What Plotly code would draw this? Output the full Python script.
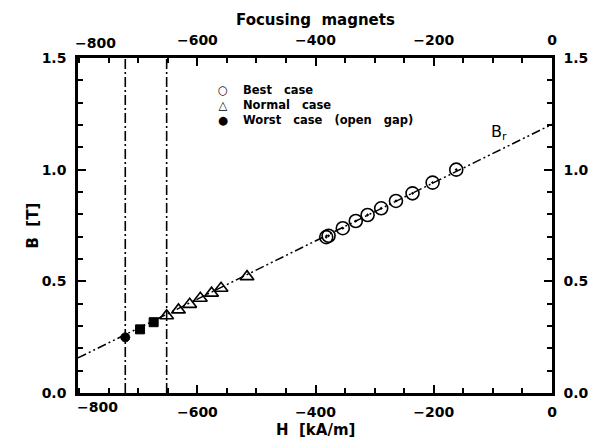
import plotly.graph_objects as go

# ---- data ----
best_H = [-162, -202, -236, -264, -289, -312, -332, -354, -378, -382]
best_B = [1.00, 0.942, 0.894, 0.860, 0.827, 0.797, 0.770, 0.738, 0.704, 0.698]
normal_H = [-516, -560, -576, -595, -613, -632, -652]
normal_B = [0.521, 0.469, 0.447, 0.424, 0.397, 0.372, 0.346]
worst_H = [-674, -697, -722]
worst_B = [0.317, 0.285, 0.249]
worst_symbols = ["square", "square", "circle"]
fit_H = [-802, 0]
fit_B = [0.157, 1.203]
limit_H = [-722, -652]

x_ticks = [-600, -400, -200, 0]
x_ticktext = ["\u2212600", "\u2212400", "\u2212200", "0"]
x_first_tick = -800
x_first_text = "\u2212800"
y_ticks = [0.0, 0.5, 1.0, 1.5]
y_ticktext = ["0.0", "0.5", "1.0", "1.5"]
legend_labels = ["Best   case", "Normal   case", "Worst   case   (open   gap)"]
legend_symbols = ["\u25cb", "\u25b3", "\u25cf"]

FONT = "DejaVu Sans"
X_RANGE = [-802, 0]
Y_RANGE = [0, 1.5]

fig = go.Figure()

fig.add_trace(go.Scatter(
    x=fit_H, y=fit_B, mode="lines",
    line=dict(color="black", width=1.5, dash="9px,3px,2px,3px,2px,3px"),
    showlegend=False, hoverinfo="skip"))

for h in limit_H:
    fig.add_trace(go.Scatter(
        x=[h, h], y=Y_RANGE, mode="lines",
        line=dict(color="black", width=1.6, dash="10px,3px,2px,3px"),
        showlegend=False, hoverinfo="skip"))

fig.add_trace(go.Scatter(
    x=best_H, y=best_B, mode="markers", name="Best case",
    marker=dict(symbol="circle-open-dot", size=13, color="black",
                line=dict(width=1.6, color="black")),
    showlegend=False))
fig.add_trace(go.Scatter(
    x=normal_H, y=normal_B, mode="markers", name="Normal case",
    marker=dict(symbol="triangle-up-open", size=12, color="black",
                line=dict(width=1.6, color="black")),
    showlegend=False))
fig.add_trace(go.Scatter(
    x=worst_H, y=worst_B, mode="markers", name="Worst case (open gap)",
    marker=dict(symbol=worst_symbols, size=9, color="black",
                line=dict(width=1, color="black")),
    showlegend=False))

# invisible trace to activate secondary axes
fig.add_trace(go.Scatter(x=[None], y=[None], xaxis="x2", yaxis="y2",
                         showlegend=False, hoverinfo="skip"))

tickfont = dict(family=FONT, size=14, color="black", weight="bold")
titlefont = dict(family=FONT, size=15, color="black", weight="bold")

common_x = dict(
    range=X_RANGE, tickmode="array", tickvals=x_ticks, ticktext=x_ticktext,
    ticks="inside", ticklen=8, tickwidth=1.5, tickcolor="black",
    minor=dict(tickmode="linear", tick0=0, dtick=50, ticks="inside",
               ticklen=5, tickwidth=1.5, tickcolor="black"),
    showline=True, linecolor="black", linewidth=2.5,
    showgrid=False, zeroline=False, tickfont=tickfont, fixedrange=True)
common_y = dict(
    range=Y_RANGE, tickmode="array", tickvals=y_ticks, ticktext=y_ticktext,
    ticks="inside", ticklen=8, tickwidth=1.5, tickcolor="black",
    minor=dict(tickmode="linear", tick0=0, dtick=0.1, ticks="inside",
               ticklen=5, tickwidth=1.5, tickcolor="black"),
    showline=True, linecolor="black", linewidth=2.5,
    showgrid=False, zeroline=False, tickfont=tickfont, fixedrange=True)

fig.update_layout(
    width=600, height=441,
    margin=dict(l=78, r=48, t=58, b=48),
    paper_bgcolor="white", plot_bgcolor="white",
    showlegend=False,
    xaxis=dict(**common_x, side="bottom", ticklabelstandoff=4),
    xaxis2=dict(**common_x, side="top", overlaying="x", ticklabelstandoff=5),
    yaxis=dict(**common_y, side="left", ticklabelstandoff=6),
    yaxis2=dict(**common_y, side="right", overlaying="y", ticklabelstandoff=6),
)

annotations = []
# axis titles
annotations.append(dict(x=0.5, y=-0.110, xref="paper", yref="paper",
                        text="H  [kA/m]", showarrow=False,
                        xanchor="center", yanchor="middle", font=titlefont))
annotations.append(dict(x=0.5, y=1.113, xref="paper", yref="paper",
                        text="Focusing  magnets", showarrow=False,
                        xanchor="center", yanchor="middle", font=titlefont))
annotations.append(dict(x=-0.097, y=0.5, xref="paper", yref="paper",
                        text="B  [T]", showarrow=False, textangle=-90,
                        xanchor="center", yanchor="middle", font=titlefont))
# shifted -800 labels (bottom and top), as in the reference
annotations.append(dict(x=x_first_tick, y=0, xref="x", yref="paper", text=x_first_text,
                        showarrow=False, xanchor="center", yanchor="top",
                        xshift=18, yshift=-4, font=tickfont))
annotations.append(dict(x=x_first_tick, y=1, xref="x", yref="paper", text=x_first_text,
                        showarrow=False, xanchor="center", yanchor="bottom",
                        xshift=16, yshift=5, font=tickfont))
# legend (one block for symbols, one for labels)
leg_font = dict(family=FONT, size=11.5, color="black", weight="bold")
annotations.append(dict(x=0.306, y=0.860, xref="paper", yref="paper",
                        text="<br>".join(legend_symbols), align="center",
                        showarrow=False, xanchor="center", yanchor="middle",
                        borderpad=0, font=leg_font))
annotations.append(dict(x=0.345, y=0.860, xref="paper", yref="paper",
                        text="<br>".join(legend_labels), align="left",
                        showarrow=False, xanchor="left", yanchor="middle",
                        borderpad=0, font=leg_font))
# B_r label
annotations.append(dict(x=0.91, y=0.815, xref="paper", yref="paper",
                        text="B<sub>r</sub>", showarrow=False,
                        font=dict(family=FONT, size=16, color="black")))
fig.update_layout(annotations=annotations)

fig.write_html("out.html")
